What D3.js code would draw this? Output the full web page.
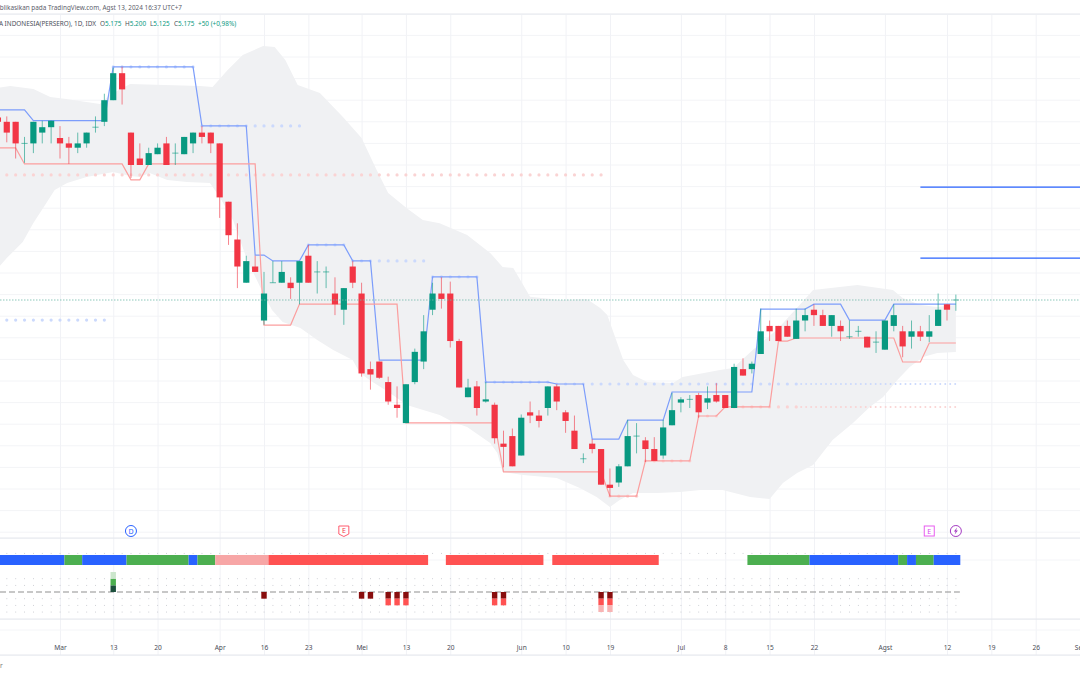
<!DOCTYPE html>
<html>
<head>
<meta charset="utf-8">
<style>
	html, body { margin: 0; background: #fff; overflow: hidden; }
	svg { display: block; font-family: 'Noto Sans', sans-serif; }
</style>
<script src="https://cdn.jsdelivr.net/npm/d3@7"></script>
</head>
<body>
<svg id="chart" width="1080" height="675"></svg>
<script>
// bar numbers count trading days from 1 March, the first bars are still in February
const firstBar = -7
const opens = [
	6020, 6000, 6000, 5900, 5900, 5950, 5975, 5925, 5900, 5880,
	5900, 5975, 6000, 6100, 6225, 5950, 5830, 5800, 5850, 5900,
	5855, 5850, 5900, 5950, 5950, 5900, 5630, 5455, 5255, 5330,
	5080, 5255, 5255, 5255, 5255, 5380, 5305, 5305, 5205, 5130,
	5330, 5205, 4855, 4890, 4795, 4690, 4605, 4795, 4890, 5130,
	5205, 5205, 4985, 4725, 4775, 4705, 4690, 4510, 4545, 4455,
	4655, 4640, 4675, 4775, 4655, 4570, 4440, 4510, 4485, 4320,
	4330, 4405, 4545, 4525, 4485, 4455, 4595, 4700, 4715, 4735,
	4700, 4735, 4735, 4675, 4855, 4855, 4925, 5055, 5055, 5055,
	4995, 5080, 5130, 5105, 5055, 5055, 5005, 5030, 5005, 4980,
	4945, 5055, 5030, 5005, 5030, 5005, 5055, 5155, 5175,
]
const highs = [
	6030, 6025, 6000, 5930, 6000, 6005, 6005, 5980, 5930, 5950,
	5950, 6025, 6130, 6250, 6255, 5950, 5900, 5880, 5900, 5930,
	5900, 5930, 5950, 5980, 5950, 5900, 5630, 5530, 5380, 5380,
	5305, 5355, 5355, 5280, 5355, 5430, 5355, 5330, 5280, 5230,
	5355, 5255, 4890, 4890, 4820, 4775, 4785, 4950, 5105, 5255,
	5280, 5260, 4995, 4810, 4800, 4795, 4700, 4570, 4580, 4645,
	4705, 4665, 4775, 4785, 4665, 4640, 4465, 4530, 4485, 4395,
	4415, 4620, 4605, 4540, 4540, 4620, 4745, 4725, 4735, 4745,
	4775, 4790, 4735, 4880, 4905, 4890, 5135, 5080, 5055, 5080,
	5135, 5135, 5155, 5130, 5105, 5080, 5080, 5055, 5005, 5030,
	5080, 5155, 5055, 5080, 5055, 5105, 5205, 5155, 5200,
]
const lows = [
	6000, 5905, 5830, 5810, 5855, 5900, 5900, 5830, 5805, 5855,
	5880, 5950, 5980, 6100, 6080, 5740, 5800, 5800, 5850, 5800,
	5800, 5850, 5855, 5900, 5855, 5555, 5430, 5230, 5255, 5305,
	5060, 5255, 5255, 5180, 5155, 5255, 5205, 5230, 5105, 5060,
	5230, 4820, 4760, 4810, 4690, 4630, 4605, 4785, 4855, 5105,
	5135, 4955, 4770, 4725, 4640, 4700, 4510, 4400, 4405, 4455,
	4605, 4585, 4640, 4665, 4560, 4485, 4420, 4465, 4320, 4265,
	4310, 4405, 4465, 4425, 4430, 4440, 4595, 4655, 4675, 4630,
	4670, 4700, 4675, 4675, 4825, 4835, 4925, 4985, 4985, 5005,
	4995, 5030, 5055, 5055, 5005, 4985, 4995, 5005, 4955, 4930,
	4945, 5030, 4910, 4950, 4985, 4980, 5055, 5080, 5125,
]
const closes = [
	6000, 5950, 5900, 5900, 6000, 5975, 6005, 5900, 5880, 5900,
	5950, 5975, 6100, 6225, 6150, 5800, 5800, 5855, 5880, 5800,
	5855, 5930, 5950, 5930, 5900, 5650, 5475, 5330, 5355, 5305,
	5205, 5255, 5305, 5230, 5355, 5255, 5305, 5305, 5155, 5230,
	5255, 4835, 4830, 4815, 4705, 4675, 4785, 4935, 5030, 5205,
	5180, 4985, 4770, 4770, 4675, 4715, 4535, 4495, 4405, 4630,
	4640, 4615, 4775, 4705, 4615, 4485, 4440, 4485, 4320, 4305,
	4405, 4545, 4545, 4485, 4430, 4585, 4665, 4715, 4715, 4655,
	4720, 4705, 4675, 4865, 4825, 4880, 5030, 5030, 4985, 5005,
	5080, 5105, 5105, 5055, 5105, 5030, 5005, 5030, 4955, 4980,
	5080, 5105, 4960, 5030, 5005, 5030, 5130, 5130, 5175,
]

// stepped channel lines, a level holds from its bar until the next one
const upperFrom = [-7, -3, 6, 16, 22, 24, 28, 33, 36, 42, 48, 56, 60, 64, 69, 79, 85, 89, 94]
const upperLevel = [6055, 6005, 6254, 5981, 5383, 5356, 5430, 5356, 4897, 5282, 4795, 4786, 4531, 4619, 4749, 5133, 5156, 5082, 5156]
const lowerFrom = [-7, -4, 8, 10, 23, 27, 39, 50, 62, 66, 72, 75, 81, 83, 95, 98]
const lowerLevel = [5879, 5805, 5731, 5805, 5059, 5156, 4606, 4379, 4267, 4430, 4638, 4680, 4985, 4999, 4888, 4976]

// dotted pivot rows
const upperDotLevel = [5082, 6254, 5981, 5430, 5356, 5282, 4795, 4786, 4786]
const upperDotFrom = [-6, 6, 16, 28, 33, 42, 48, 56, 83]
const upperDotTo = [5, 15, 27, 32, 41, 47, 55, 83, 101]
const lowerDotLevel = [5754, 4267, 4430, 4638, 4680, 4680]
const lowerDotFrom = [-6, 62, 66, 72, 75, 83]
const lowerDotTo = [61, 65, 71, 74, 83, 101]
const denseFromBar = 83

// grey cloud outline, bar position and price
const cloudTopBar = [-7, -5.6, -3, -1.1, 0.7, 4.5, 5.6, 7.9, 11.8, 15.8, 17.2, 18.9, 20.6, 22.9, 24.2, 25.4, 26.8, 29.3, 31.9, 34, 35.7, 37, 39.1, 40.9, 42.8, 45.9, 48.5, 49.9, 51.1, 53, 56.4, 59.4, 60.9, 61.7, 63.5, 64.6, 66.2, 69.1, 70.2, 74.4, 75.9, 78.1, 80.8, 84.2, 84.9, 89.9, 93.9, 95, 97, 98.9, 101]
const cloudTopPrice = [6157, 6166, 6152, 6115, 6106, 6082, 6124, 6175, 6170, 6166, 6161, 6240, 6309, 6351, 6346, 6286, 6170, 6133, 6022, 5925, 5777, 5670, 5600, 5545, 5530, 5476, 5393, 5328, 5323, 5190, 5175, 5180, 5138, 5106, 4897, 4828, 4795, 4791, 4818, 4851, 4860, 4944, 5036, 5189, 5221, 5244, 5221, 5184, 5152, 5143, 5152]
const cloudBottomBar = [-7, -6, -4.2, -3, -1.9, -0.6, 0.8, 3, 6, 7.9, 9, 10.1, 12.1, 14.3, 16.9, 18, 19.5, 21.1, 22.9, 23.9, 25.1, 27.1, 29, 30.8, 33, 33.8, 34.9, 37.2, 39.1, 42.8, 44.3, 45.9, 48.5, 49.3, 49.9, 52.2, 56, 58.6, 60.5, 62, 63.1, 64.6, 67.3, 69.9, 72.2, 74.7, 77.8, 80, 81.5, 83.1, 84.9, 87.1, 89.4, 91.3, 92.8, 94.4, 95.8, 97.3, 98.9, 101]
const cloudBottomPrice = [5323, 5369, 5444, 5532, 5601, 5684, 5717, 5745, 5768, 5749, 5745, 5763, 5731, 5721, 5717, 5652, 5545, 5360, 5207, 5129, 5073, 5045, 4990, 4943, 4897, 4837, 4805, 4744, 4689, 4643, 4610, 4587, 4513, 4467, 4379, 4365, 4351, 4305, 4263, 4217, 4249, 4281, 4281, 4286, 4295, 4295, 4263, 4254, 4328, 4374, 4411, 4527, 4606, 4680, 4726, 4805, 4865, 4911, 4930, 4934]

// two drawn horizontal rays on the right
const rayLevels = [5698, 5369]
const rayFromBar = 97
const lastPrice = 5175

// trend state strip, a state holds from its bar until the next one
const stateFrom = [-7, 1, 3, 8, 15, 16, 18, 24, 42, 44, 55, 56, 68, 78, 85, 95, 96, 97, 99]
const stateName = ['up', 'hold', 'up', 'hold', 'up', 'hold', 'fade', 'down', null, 'down', null, 'down', null, 'hold', 'up', 'hold', 'up', 'hold', 'up']

// signal strength histogram
const signalBars = [6, 23, 34, 35, 37, 38, 39, 49, 50, 61, 62]
const signalValues = [3, -1, -1, -1, -2, -2, -2, -2, -2, -3, -3]

const tickBars = [0, 6, 11, 18, 23, 28, 34, 39, 44, 52, 57, 62, 70, 75, 80, 85, 93, 100, 105, 110, 115]
const tickLabels = ['Mar', '13', '20', 'Apr', '16', '23', 'Mei', '13', '20', 'Jun', '10', '19', 'Jul', '8', '15', '22', 'Agst', '12', '19', '26', 'Sep']
const gridPrices = d3.range(4100, 6500, 100)

const stateColor = { up: '#2962ff', hold: '#4caf50', fade: '#f7a6a6', down: '#ff5252' }
const green = '#089981'
const red = '#f23645'
const lastBar = firstBar + opens.length - 1
const barNumbers = d3.range(firstBar, lastBar + 1)

const svg = d3.select('#chart')
const x = d3.scaleLinear().domain([0, 100]).range([60, 947])
const y = d3.scaleLinear().domain([4100, 6400]).range([532.2, 35.4])
const sig = d3.scaleLinear().domain([-3, 3]).range([612, 572])

// grid and panes
svg.append('g')
	.selectAll('line')
	.data(gridPrices)
	.join('line')
	.attr('x1', 0)
	.attr('x2', 1080)
	.attr('y1', d => y(d))
	.attr('y2', d => y(d))
	.attr('stroke', '#f3f4f7')
const axisG = svg.append('g')
	.attr('transform', 'translate(0,655)')
	.call(d3.axisBottom(x).tickValues(tickBars).tickSize(-640).tickPadding(-14).tickFormat((d, i) => tickLabels[i]))
axisG.select('.domain').remove()
axisG.selectAll('line').attr('stroke', '#f1f2f6')
axisG.selectAll('text')
	.attr('dy', 0)
	.attr('y', -5)
	.attr('fill', '#4a4d57')
	.attr('font-size', 6.6)
	.attr('font-family', "'Noto Sans', sans-serif")
svg.append('g')
	.selectAll('rect')
	.data([14, 538, 619, 655])
	.join('rect')
	.attr('x', 0)
	.attr('width', 1080)
	.attr('y', d => d - 0.5)
	.attr('height', 1.2)
	.attr('fill', '#e6e8ee')
svg.append('g')
	.selectAll('line')
	.data([560, 630])
	.join('line')
	.attr('x1', 0)
	.attr('x2', 1080)
	.attr('y1', d => d)
	.attr('y2', d => d)
	.attr('stroke', '#f4f5f8')

// cloud
const cloudPoints = cloudTopBar.map((b, i) => [b, cloudTopPrice[i]]).concat(cloudBottomBar.map((b, i) => [b, cloudBottomPrice[i]]).reverse())
const outline = d3.line().x(d => x(d[0])).y(d => y(d[1]))
svg.append('path')
	.attr('d', outline(cloudPoints) + 'Z')
	.attr('fill', '#f0f1f3')

// pivot dots
const dotData = (levels, from, to) =>
	levels.flatMap((level, k) => {
		const dense = from[k] == denseFromBar
		return d3.range(from[k], to[k] + 0.01, dense ? 0.56 : 1).map(b => ({ b, level, dense }))
	})
svg.append('g')
	.selectAll('circle')
	.data(dotData(upperDotLevel, upperDotFrom, upperDotTo))
	.join('circle')
	.attr('cx', d => x(d.b))
	.attr('cy', d => y(d.level))
	.attr('r', d => (d.dense ? 1 : 1.6))
	.attr('fill', '#cbd9fc')
svg.append('g')
	.selectAll('circle')
	.data(dotData(lowerDotLevel, lowerDotFrom, lowerDotTo))
	.join('circle')
	.attr('cx', d => x(d.b))
	.attr('cy', d => y(d.level))
	.attr('r', d => (d.dense ? 1 : 1.6))
	.attr('fill', '#fad3d3')

// stepped channel
const stepValue = (from, level, b) => level[d3.bisectRight(from, b) - 1]
const stepLine = d3.line().x(d => x(d[0])).y(d => y(d[1]))
svg.append('path')
	.attr('d', stepLine(barNumbers.map(b => [b, stepValue(upperFrom, upperLevel, b)])))
	.attr('fill', 'none')
	.attr('stroke', '#7c9dfb')
	.attr('stroke-width', 1.2)
svg.append('path')
	.attr('d', stepLine(barNumbers.map(b => [b, stepValue(lowerFrom, lowerLevel, b)])))
	.attr('fill', 'none')
	.attr('stroke', '#fb9e9e')
	.attr('stroke-width', 1.2)

// candles
const candles = barNumbers.map((b, i) => ({ b, o: opens[i], h: highs[i], l: lows[i], c: closes[i] }))
const candleColor = d => (d.c >= d.o ? green : red)
const candleG = svg.append('g')
candleG.selectAll('line')
	.data(candles)
	.join('line')
	.attr('x1', d => x(d.b))
	.attr('x2', d => x(d.b))
	.attr('y1', d => y(d.h))
	.attr('y2', d => y(d.l))
	.attr('stroke', candleColor)
	.attr('stroke-opacity', 0.6)
candleG.selectAll('rect')
	.data(candles)
	.join('rect')
	.attr('x', d => x(d.b) - 3.1)
	.attr('width', 6.2)
	.attr('y', d => (d.o == d.c ? y(d.c) - 0.5 : y(Math.max(d.o, d.c))))
	.attr('height', d => (d.o == d.c ? 1 : Math.abs(y(d.o) - y(d.c))))
	.attr('fill', candleColor)
	.attr('fill-opacity', d => (d.o == d.c ? 0.6 : 1))

// rays and last price
svg.append('g')
	.selectAll('line')
	.data(rayLevels)
	.join('line')
	.attr('x1', x(rayFromBar))
	.attr('x2', 1080)
	.attr('y1', d => y(d))
	.attr('y2', d => y(d))
	.attr('stroke', '#2962ff')
	.attr('stroke-width', 1.3)
svg.append('line')
	.attr('x1', 0)
	.attr('x2', 1080)
	.attr('y1', y(lastPrice))
	.attr('y2', y(lastPrice))
	.attr('stroke', '#6fb9a8')
	.attr('stroke-width', 0.8)
	.attr('stroke-dasharray', '1.5 1.5')

// indicator pane: dot rows, state strip, histogram
const dotRows = [5.8, 2, 1, -1, -2, -3]
svg.append('g')
	.selectAll('rect')
	.data(dotRows.flatMap(level => d3.range(-6, lastBar + 1).map(b => ({ b, level }))))
	.join('rect')
	.attr('x', d => x(d.b) - 0.4)
	.attr('y', d => sig(d.level) - 0.4)
	.attr('width', 0.9)
	.attr('height', 0.9)
	.attr('fill', '#c4c6cc')
const stateRuns = stateFrom.map((b, i) => ({ from: b, to: i + 1 < stateFrom.length ? stateFrom[i + 1] : lastBar + 1, state: stateName[i] }))
svg.append('g')
	.selectAll('rect')
	.data(stateRuns.filter(d => d.state))
	.join('rect')
	.attr('x', d => x(d.from - 0.5))
	.attr('width', d => x(d.to - 0.5) - x(d.from - 0.5))
	.attr('y', 555)
	.attr('height', 10)
	.attr('fill', d => stateColor[d.state])
svg.append('line')
	.attr('x1', 0)
	.attr('x2', x(lastBar) + 4)
	.attr('y1', sig(0))
	.attr('y2', sig(0))
	.attr('stroke', '#8f8f8f')
	.attr('stroke-dasharray', '6 3')
const cellColor = { 1: '#1c4f3c', 2: '#4caf50', 3: '#cbe6cc', '-1': '#880e0e', '-2': '#ff5252', '-3': '#f8b4b4' }
svg.append('g')
	.selectAll('rect')
	.data(signalBars.flatMap((b, i) => {
		const s = Math.sign(signalValues[i])
		return d3.range(1, Math.abs(signalValues[i]) + 1).map(n => ({ b, v: n * s, s }))
	}))
	.join('rect')
	.attr('x', d => x(d.b) - 2.7)
	.attr('width', 5.4)
	.attr('y', d => Math.min(sig(d.v), sig(d.v - d.s)))
	.attr('height', sig(0) - sig(1))
	.attr('fill', d => cellColor[d.v])

// event markers
const eventY = 531
const eventG = svg.append('g').attr('font-size', 7).attr('text-anchor', 'middle')
eventG.append('circle').attr('cx', x(8)).attr('cy', eventY).attr('r', 5.5).attr('fill', '#fff').attr('stroke', '#2962ff')
eventG.append('text').attr('x', x(8)).attr('y', eventY + 2.5).attr('fill', '#2962ff').text('D')
eventG.append('path')
	.attr('transform', `translate(${x(32)},${eventY})`)
	.attr('d', 'M-5,-5H5V3L0,5.5L-5,3Z')
	.attr('fill', '#fff')
	.attr('stroke', '#ff5a6e')
eventG.append('text').attr('x', x(32)).attr('y', eventY + 2).attr('fill', '#f23645').text('E')
eventG.append('rect').attr('x', x(98) - 5).attr('y', eventY - 5).attr('width', 10).attr('height', 10).attr('fill', '#fff').attr('stroke', '#e85cf0')
eventG.append('text').attr('x', x(98)).attr('y', eventY + 2.5).attr('fill', '#d946ef').text('E')
eventG.append('circle').attr('cx', x(101)).attr('cy', eventY).attr('r', 5.5).attr('fill', '#fff').attr('stroke', '#a43bc2')
eventG.append('path')
	.attr('transform', `translate(${x(101)},${eventY})`)
	.attr('d', 'M1.2,-3.4L-2,0.6H-0.2L-1.2,3.4L2,-0.6H0.2Z')
	.attr('fill', '#a43bc2')

// header text, both lines run off the left edge
svg.append('text')
	.attr('x', 182)
	.attr('y', 10.3)
	.attr('text-anchor', 'end')
	.attr('font-size', 6.4)
	.attr('fill', '#5d606b')
	.text('Dipublikasikan pada TradingView.com, Agst 13, 2024 16:37 UTC+7')
svg.append('text')
	.attr('x', 96)
	.attr('y', 25.5)
	.attr('text-anchor', 'end')
	.attr('font-size', 6.4)
	.attr('fill', '#4a4d57')
	.text('BANK NEGARA INDONESIA(PERSERO), 1D, IDX')
const legendParts = [['O', 5.175], ['H', 5.2], ['L', 5.125], ['C', 5.175]]
const legendX = [100, 125, 150, 174]
const legendG = svg.append('g').attr('font-size', 6.4)
legendParts.forEach((p, i) => {
	const t = legendG.append('text').attr('x', legendX[i]).attr('y', 25.5)
	t.append('tspan').attr('fill', '#4a4d57').text(p[0])
	t.append('tspan').attr('fill', green).text(p[1].toFixed(3))
})
legendG.append('text').attr('x', 198).attr('y', 25.5).attr('fill', green).text('+50 (+0,98%)')
svg.append('text').attr('x', 0).attr('y', 668).attr('font-size', 6.6).attr('fill', '#777').text('r')
</script>
</body>
</html>
